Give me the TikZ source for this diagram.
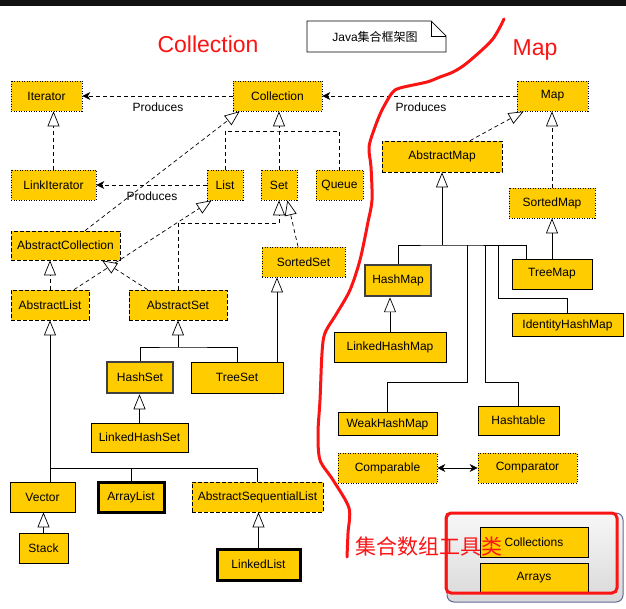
\documentclass[tikz,border=0pt]{standalone}
\usepackage{fontspec}
\setmainfont{Liberation Sans}
\newfontfamily\cjk{Noto Sans CJK SC}
\usetikzlibrary{arrows.meta}
\definecolor{boxy}{RGB}{255,204,0}
\definecolor{tbord}{RGB}{95,105,150}
\definecolor{inkred}{RGB}{250,20,20}
\newcommand\boxfont{\fontsize{12}{14}\selectfont}
\begin{document}
\begin{tikzpicture}[x=1pt,y=-1pt,
 cls/.style={fill=boxy, draw=black, line width=0.7pt, inner sep=0pt, font=\boxfont},
 iface/.style={cls, dash pattern=on 1pt off 1.5pt},
 abst/.style={cls, dash pattern=on 4pt off 2pt},
 boldb/.style={cls, line width=3pt},
 boldg/.style={cls, draw=black!75, line width=2.5pt},
 conn/.style={line width=0.7pt},
 dsh/.style={conn, dash pattern=on 4pt off 3pt},
 inh/.style={conn, -{Triangle[length=15pt,width=12pt,fill=white,line width=0.7pt]}},
 prod/.style={dsh, -{Stealth[length=8pt,width=8pt,inset=2.5pt]}},
 lbl/.style={font=\boxfont, inner sep=0pt}
]
\useasboundingbox (0,0) rectangle (626,609);
\fill[white] (0,0) rectangle (626,609);
\fill[black!93] (0,0) rectangle (626,6);

% titles
\node[text=inkred, font=\fontsize{23}{26}\selectfont, inner sep=0pt] (tcoll) at (208,44) {Collection};
\node[text=inkred, font=\fontsize{23}{26}\selectfont, inner sep=0pt] (tmap) at (535,50) {Map};

% note
\draw[line width=0.7pt, fill=white] (307,21) -- (431,21) -- (446,36) -- (446,52) -- (307,52) -- cycle;
\draw[line width=0.7pt] (431,21) -- (431,36) -- (446,36);
\node[lbl] (note) at (375,37) {Java{\cjk 集合框架图}};

% ---- nodes: Collection side
\node[iface, minimum width=71pt, minimum height=30pt] (Iterator) at (46.5,96) {Iterator};
\node[iface, minimum width=89pt, minimum height=30pt] (Collection) at (277.5,96) {Collection};
\node[iface, minimum width=71pt, minimum height=30pt] (Map) at (552.5,96) {Map};
\node[iface, minimum width=85pt, minimum height=30pt] (LinkIterator) at (53.5,185) {LinkIterator};
\node[iface, minimum width=36pt, minimum height=30pt] (List) at (225,185) {List};
\node[iface, minimum width=36pt, minimum height=30pt] (Set) at (279,185) {Set};
\node[iface, minimum width=47pt, minimum height=30pt] (Queue) at (339.5,185) {Queue};
\node[abst, minimum width=109pt, minimum height=29pt] (AbstractCollection) at (65.5,245.5) {AbstractCollection};
\node[abst, minimum width=78pt, minimum height=30pt] (AbstractList) at (50,305) {AbstractList};
\node[abst, minimum width=98pt, minimum height=30pt] (AbstractSet) at (178,305) {AbstractSet};
\node[iface, minimum width=83pt, minimum height=30pt] (SortedSet) at (303.5,262) {SortedSet};
\node[boldg, minimum width=66pt, minimum height=31pt] (HashSet) at (140,377.5) {HashSet};
\node[cls, minimum width=92pt, minimum height=31pt] (TreeSet) at (237,377.5) {TreeSet};
\node[cls, minimum width=97pt, minimum height=29pt] (LinkedHashSet) at (139.5,437.5) {LinkedHashSet};
\node[cls, minimum width=65pt, minimum height=30pt] (Vector) at (42.5,497) {Vector};
\node[boldb, minimum width=66pt, minimum height=30pt] (ArrayList) at (131,497) {ArrayList};
\node[abst, minimum width=131pt, minimum height=30pt] (ASL) at (257.5,497) {AbstractSequentialList};
\node[cls, minimum width=49pt, minimum height=30pt] (Stack) at (43.5,548) {Stack};
\node[boldb, minimum width=83pt, minimum height=31pt] (LinkedList) at (258.5,564.5) {LinkedList};

% ---- nodes: Map side
\node[abst, minimum width=120pt, minimum height=31pt] (AbstractMap) at (442,156.5) {AbstractMap};
\node[iface, minimum width=86pt, minimum height=30pt] (SortedMap) at (552,203) {SortedMap};
\node[boldg, minimum width=66pt, minimum height=31pt] (HashMap) at (398,280.5) {HashMap};
\node[cls, minimum width=80pt, minimum height=30pt] (TreeMap) at (552,274) {TreeMap};
\node[cls, minimum width=111pt, minimum height=23pt] (IdentityHashMap) at (567.5,325) {IdentityHashMap};
\node[cls, minimum width=112pt, minimum height=30pt] (LinkedHashMap) at (390,347) {LinkedHashMap};
\node[cls, minimum width=99pt, minimum height=23pt] (WeakHashMap) at (387.5,424) {WeakHashMap};
\node[cls, minimum width=81pt, minimum height=29pt] (Hashtable) at (518.5,420.5) {Hashtable};
\node[iface, minimum width=99pt, minimum height=30pt] (Comparable) at (387.5,468) {Comparable};
\node[iface, minimum width=99pt, minimum height=30pt] (Comparator) at (527.5,468) {Comparator};

% ---- connectors: Produces
\draw[prod] (Collection.west) -- (Iterator.east);
\node[lbl] (p1) at (158,107) {Produces};
\draw[prod] (Map.west) -- (Collection.east);
\node[lbl] (p2) at (421,107) {Produces};
\draw[prod] (List.west) -- (LinkIterator.east);
\node[lbl] (p3) at (152,196) {Produces};

% interfaces
\draw[dsh, inh] (LinkIterator.north) -- (LinkIterator.north |- Iterator.south);
\coordinate (cj) at (279,131);
\draw[dsh, inh] (Set.north) -- (Set.north |- Collection.south);
\draw[dsh] (List.north) |- (cj) -| (Queue.north);
\draw[dsh, inh] ([xshift=19.5pt]AbstractCollection.north) -- ([xshift=7pt]Collection.south west);
\draw[dsh, inh] (AbstractList.north) -- (AbstractList.north |- AbstractCollection.south);
\draw[dsh, inh] ([xshift=24pt]AbstractList.north) -- ([xshift=5pt]List.south west);
\draw[dsh, inh] ([xshift=19pt]AbstractSet.north west) -- ([xshift=36.5pt]AbstractCollection.south);
\coordinate (sj) at (279,223);
\draw[dsh, inh] (AbstractSet.north) |- (sj) -- (Set.south);
\draw[dsh, inh] ([xshift=-5.5pt]SortedSet.north) -- ([xshift=-10pt]Set.south east);

% set classes
\coordinate (asj) at (178,347);
\draw[inh] (asj) -- (AbstractSet.south);
\draw[conn] (HashSet.north) |- (asj) -| (TreeSet.north);
\draw[inh] ([xshift=40pt]TreeSet.north) -- ([xshift=40pt]TreeSet.north |- SortedSet.south);
\draw[inh] (LinkedHashSet.north) -- (LinkedHashSet.north |- HashSet.south);

% list classes
\coordinate (alj) at (50,468);
\draw[inh] (Vector.north -| AbstractList.south) -- (AbstractList.south);
\draw[conn] (alj) -| (ArrayList.north);
\draw[conn] (alj) -| (ASL.north);
\draw[inh] (Stack.north) -- (Stack.north |- Vector.south);
\draw[inh] (LinkedList.north) -- (LinkedList.north |- ASL.south);

% map side
\draw[dsh, inh] ([xshift=28pt]AbstractMap.north) -- ([xshift=7pt]Map.south west);
\draw[dsh, inh] (SortedMap.north) -- (SortedMap.north |- Map.south);
\coordinate (amj) at (442,245);
\draw[inh] (amj) -- (AbstractMap.south);
\draw[conn] (HashMap.north) |- (amj) -| ([xshift=-26pt]TreeMap.north);
\coordinate (w1) at (467,245); \coordinate (w2) at (467,382);
\draw[conn] (w1) -- (w2) -| (WeakHashMap.north);
\coordinate (h1) at (485,245); \coordinate (h2) at (485,382);
\draw[conn] (h1) -- (h2) -| (Hashtable.north);
\coordinate (i1) at (498,245); \coordinate (i2) at (498,298);
\draw[conn] (i1) -- (i2) -| (IdentityHashMap.north);
\draw[inh] (TreeMap.north) -- (TreeMap.north |- SortedMap.south);
\draw[inh] (LinkedHashMap.north) -- (LinkedHashMap.north |- HashMap.south);
\draw[conn, {Stealth[length=8pt,width=8pt,inset=2.5pt]}-{Stealth[length=8pt,width=8pt,inset=2.5pt]}] (Comparable.east) -- (Comparator.west);

% tools group
\draw[draw=tbord, line width=1pt, rounded corners=7pt, top color=gray!6, bottom color=gray!30] (447,513) rectangle (623,602);
\node[cls, minimum width=108pt, minimum height=30pt] (Collections) at (534,542) {Collections};
\node[cls, minimum width=108pt, minimum height=30pt] (Arrays) at (534,578) {Arrays};
\draw[inkred, line width=3pt, rounded corners=5pt] (446,513) rectangle (617,593);
\node[text=inkred, font=\cjk\fontsize{21}{24}\selectfont, inner sep=0pt] (tools) at (429,547) {集合数组工具类};

% red freehand divider
\draw[inkred, line width=3pt, line cap=round, line join=round]
  plot[smooth, tension=0.5] coordinates {(504,19) (492,40) (467,63) (453,72) (440,77) (427,82) (400,88) (392,93) (382,110) (375,127) (369,147) (371,167) (372,200) (368,222) (360,260) (350,290) (337,313) (325,333) (322,353) (320,400) (318,433) (320,460) (333,480) (349,508) (348,533) (347,557)};
\end{tikzpicture}
\end{document}
